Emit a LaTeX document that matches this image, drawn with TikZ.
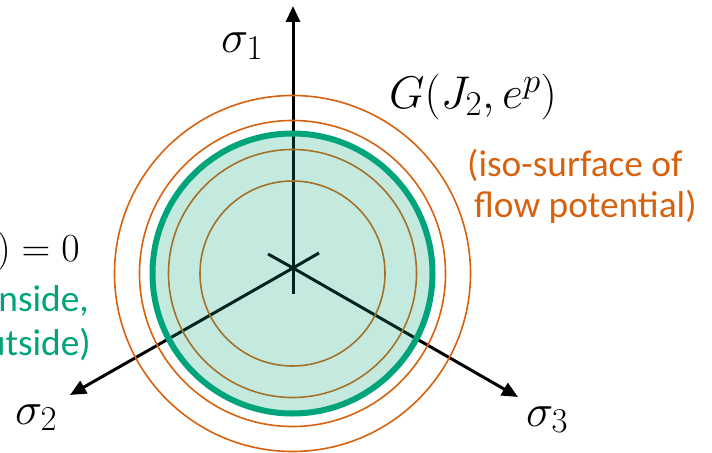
\documentclass[tikz,border=0pt]{standalone}
\usepackage{fix-cm}
\usepackage{fontspec}
\newfontfamily\carlito{Carlito}
\DeclareMathSizes{46}{46}{35}{27}
\usetikzlibrary{arrows.meta}
\definecolor{potNaranja}{HTML}{D6620F}
\definecolor{yieldVerde}{HTML}{00A47A}

\begin{document}
\begin{tikzpicture}[x=1bp, y=-1bp,
      ax/.style={line width=3bp, -{Triangle[length=16bp,width=14bp]}},
      stub/.style={line width=3bp},
      iso/.style={draw=potNaranja, line width=1.6bp},
      mlbl/.style={inner sep=0pt, font=\fontsize{46}{54}\selectfont},
      txt/.style={inner sep=0pt, text=#1, font=\carlito\fontsize{37.5}{45}\selectfont}]
    \useasboundingbox (0,0) rectangle (712,453);
    \clip (0,0) rectangle (712,453);
    \coordinate (o)  at (293,268);
    \coordinate (c)  at (292.5,273.5);
    \coordinate (t1) at (293,6);
    \coordinate (t2) at (70,395);
    \coordinate (t3) at (518,397);
    \coordinate (s1) at (293,294);
    \coordinate (s2) at (319,253);
    \coordinate (s3) at (268,254);
    % principal stress axes
    \draw[ax] (o) -- (t1);
    \draw[ax] (o) -- (t2);
    \draw[ax] (o) -- (t3);
    \draw[stub] (o) -- (s1);
    \draw[stub] (o) -- (s2);
    \draw[stub] (o) -- (s3);
    % iso-surfaces of G
    \foreach \r in {92.5,124,153,178}
      \draw[iso] (c) circle[radius=\r bp];
    % yield surface
    \fill[yieldVerde, opacity=0.23] (c) circle[radius=140bp];
    \draw[yieldVerde, line width=6bp] (c) circle[radius=140bp];
    % labels
    \node[mlbl, anchor=base west] (l1) at (221,53)  {$\sigma_1$};
    \node[mlbl, anchor=base west] (l2) at (15,424)  {$\sigma_2$};
    \node[mlbl, anchor=base west] (l3) at (526,426) {$\sigma_3$};
    \node[mlbl, anchor=base west] (g)  at (389,109) {$G(J_2,e^p)$};
    \node[txt=potNaranja, anchor=base west] (g1) at (467,177) {(iso-surface of};
    \node[txt=potNaranja, anchor=base west] (g2) at (474,218) {flow potential)};
    \node[mlbl, font=\fontsize{40}{48}\selectfont, anchor=base east] (f) at (80,262) {$)=0$};
    \node[txt=yieldVerde, anchor=base east] (f1) at (89,312) {nside,};
    \node[txt=yieldVerde, anchor=base east] (f2) at (91,356) {utside)};
  \end{tikzpicture}
\end{document}
